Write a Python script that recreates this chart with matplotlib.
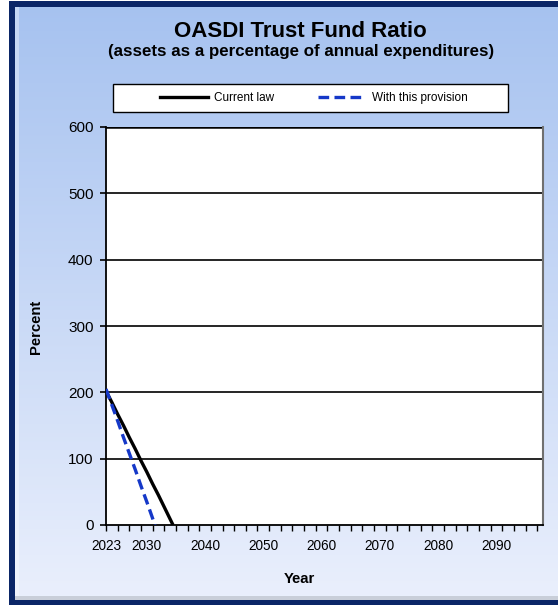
"""OASDI trust fund ratio chart, current law vs provision."""
import numpy as np
import matplotlib
matplotlib.use("Agg")
import matplotlib.pyplot as plt
from matplotlib.patches import Rectangle
from matplotlib.lines import Line2D
from matplotlib.ticker import FixedLocator

plt.rcParams['font.family'] = ['Liberation Sans', 'DejaVu Sans']

# data
years_current = [2023, 2024, 2025, 2026, 2027, 2028, 2029, 2030, 2031, 2032, 2033, 2034, 2034.5]
ratio_current = [202, 185, 167, 150, 132, 115, 97, 80, 62, 45, 27, 9, 0]
years_provision = [2023, 2024, 2025, 2026, 2027, 2028, 2029, 2030, 2031, 2031.4]
ratio_provision = [205, 181, 157, 132, 108, 84, 59, 35, 10, 0]

x_labels = [2023, 2030, 2040, 2050, 2060, 2070, 2080, 2090]
x_ticks = list(range(2023, 2098, 2))
y_ticks = [0, 100, 200, 300, 400, 500, 600]

W, H = 558, 605
NAVY = '#0b2667'


def fx(px):
    return px / W


def fy(py):
    return 1 - py / H


fig = plt.figure(figsize=(W / 100, H / 100), dpi=100, facecolor='white')

# background panel in pixel coordinates
bg = fig.add_axes([0, 0, 1, 1])
bg.set_xlim(0, W)
bg.set_ylim(H, 0)
bg.axis('off')
grad = np.linspace(0, 1, 256).reshape(-1, 1, 1)
top = np.array([0.65, 0.76, 0.94])
bot = np.array([0.92, 0.94, 0.99])
bg.imshow(top + (bot - top) * grad, aspect='auto', extent=[9, W, H, 1], zorder=0)
bg.add_patch(Rectangle((15, 7), 4, 589, color='white', alpha=0.35, lw=0, zorder=1))
bg.add_patch(Rectangle((15, 596), W - 15, 4, color='#c9ced9', lw=0, zorder=1))
bg.add_patch(Rectangle((9, 1), 6, H, color=NAVY, lw=0, zorder=2))
bg.add_patch(Rectangle((9, 1), W, 6, color=NAVY, lw=0, zorder=2))
bg.add_patch(Rectangle((9, 600), W, 5, color=NAVY, lw=0, zorder=2))

# plot area
ax = fig.add_axes([fx(106), fy(525), fx(543) - fx(106), fy(127) - fy(525)])
ax.set_facecolor('white')

ax.plot(years_current, ratio_current, color='black', lw=2.4, solid_capstyle='butt', zorder=3)
ax.plot(years_provision, ratio_provision, color='#1538c8', lw=2.4, ls=(0, (3.2, 1.6)),
        zorder=3)

for y in y_ticks[1:]:
    ax.axhline(y, color='black', lw=1.2 if y < 600 else 1.8, zorder=1)

ax.set_xlim(2023, 2098)
ax.set_ylim(0, 600)
ax.xaxis.remove_overlapping_locs = False
ax.xaxis.set_major_locator(FixedLocator(x_ticks))
ax.xaxis.set_major_formatter(plt.NullFormatter())
ax.set_xticks(x_labels, minor=True)
ax.set_xticklabels([str(x) for x in x_labels], minor=True)
ax.set_yticks(y_ticks)
ax.tick_params(axis='y', labelsize=11, direction='out', length=4, width=1.2, pad=5)
ax.tick_params(axis='x', which='major', direction='out', length=4, width=1)
ax.tick_params(axis='x', which='minor', length=0, labelsize=9.8, pad=10)
ax.spines['top'].set_visible(False)
ax.spines['right'].set_color('#707070')
ax.spines['right'].set_linewidth(1.5)
ax.spines['left'].set_linewidth(1.3)
ax.spines['bottom'].set_linewidth(1.3)

fig.text(fx(36), fy(327), 'Percent', rotation=90, ha='center', va='center',
         fontsize=10.7, fontweight='bold')
fig.text(fx(299), fy(579), 'Year', ha='center', va='center', fontsize=10.7,
         fontweight='bold')

fig.text(fx(300), fy(37), 'OASDI Trust Fund Ratio', ha='center', va='baseline',
         fontsize=16, fontweight='bold')
fig.text(fx(301), fy(56), '(assets as a percentage of annual expenditures)', ha='center',
         va='baseline', fontsize=12.2, fontweight='bold')

# legend box
bg.add_patch(Rectangle((113, 84), 395, 28, facecolor='white', edgecolor='black', lw=1,
                       zorder=3))
handles = [Line2D([], [], color='black', lw=2.4),
           Line2D([], [], color='#1538c8', lw=2.4, ls=(0, (3.2, 1.6)))]
leg = fig.legend(handles, ['Current law', 'With this provision'], loc='center',
                 bbox_to_anchor=(fx(314), fy(98)), ncol=2, fontsize=8.5, frameon=False,
                 handlelength=4.1, handletextpad=0.5, columnspacing=3.7, borderpad=0)

fig.savefig('out.png', dpi=100)
